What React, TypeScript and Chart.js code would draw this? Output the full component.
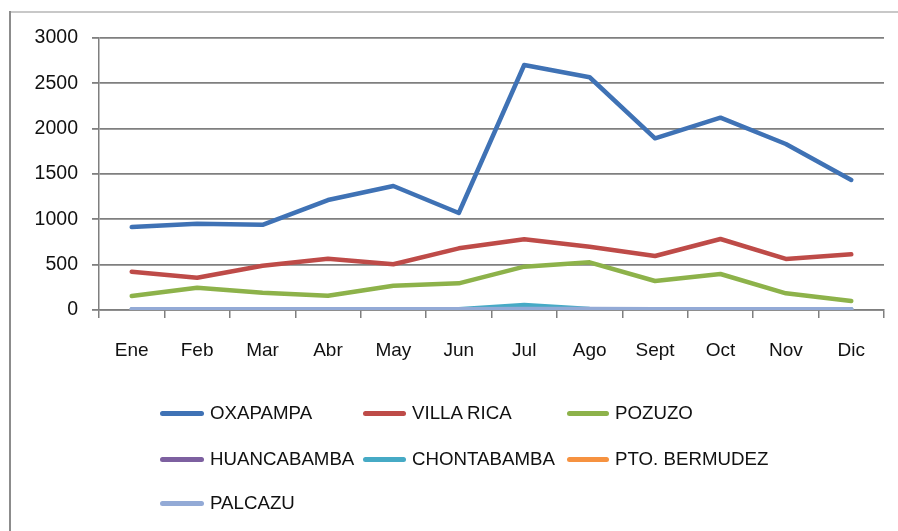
import React, { useEffect, useRef } from "react";
import { Chart, registerables } from "chart.js";

Chart.register(...registerables);

const months = ["Ene", "Feb", "Mar", "Abr", "May", "Jun", "Jul", "Ago", "Sept", "Oct", "Nov", "Dic"];
const yTicks = [0, 500, 1000, 1500, 2000, 2500, 3000];

const oxapampa = [915, 952, 940, 1213, 1368, 1070, 2702, 2567, 1894, 2121, 1831, 1434];
const villaRica = [423, 356, 489, 566, 504, 680, 780, 698, 596, 783, 563, 614];
const pozuzo = [154, 246, 191, 158, 268, 294, 478, 526, 320, 397, 184, 99];
const huancabamba = [2, 2, 2, 2, 2, 2, -15, 3, 2, -5, 2, 2];
const chontabamba = [5, 5, 5, 5, 8, 8, 55, 10, 3, 5, 5, 5];
const ptoBermudez = [0, 0, 0, 0, 0, 0, 0, 0, 0, 0, 0, 0];
const palcazu = [8, 8, 8, 8, 8, 8, 10, 12, 8, 8, 8, 8];

const seriesNames = ["OXAPAMPA", "VILLA RICA", "POZUZO", "HUANCABAMBA", "CHONTABAMBA", "PTO. BERMUDEZ", "PALCAZU"];
const seriesData = [oxapampa, villaRica, pozuzo, huancabamba, chontabamba, ptoBermudez, palcazu];
const seriesColors = ["#3f72b5", "#be4b48", "#8db24a", "#7d60a0", "#46aac5", "#f69240", "#93aad6"];

const legendCols = [
  { line: 160, text: 210 },
  { line: 363, text: 412 },
  { line: 567, text: 615 },
];
const legendRows = [413, 459, 503];

const FONT = "'Liberation Sans', Arial, sans-serif";

export default function App() {
  const ref = useRef<HTMLCanvasElement | null>(null);

  useEffect(() => {
    if (!ref.current) return;
    const chart = new Chart(ref.current, {
      type: "line",
      data: {
        labels: months,
        datasets: seriesNames.map((name, i) => ({
          label: name,
          data: seriesData[i],
          borderColor: seriesColors[i],
          backgroundColor: seriesColors[i],
          borderWidth: 4.5,
          pointRadius: 0,
          tension: 0,
          borderCapStyle: "round" as const,
          borderJoinStyle: "round" as const,
          order: seriesNames.length - 1 - i,
        })),
      },
      options: {
        animation: false,
        responsive: false,
        layout: { padding: { left: 0, top: 38, right: 14, bottom: 161 } },
        plugins: { legend: { display: false }, tooltip: { enabled: false } },
        scales: {
          x: {
            offset: true,
            grid: {
              drawOnChartArea: false,
              drawTicks: true,
              tickLength: 8,
              color: "#7f7f7f",
              lineWidth: 1.5,
              offset: true,
            },
            border: { display: true, color: "#7f7f7f", width: 1.5 },
            ticks: {
              color: "#111",
              font: { family: FONT, size: 19 },
              padding: 21,
              maxRotation: 0,
              autoSkip: false,
            },
            afterFit: (scale: any) => {
              scale.height = 60;
            },
          },
          y: {
            min: 0,
            max: 3000,
            afterBuildTicks: (scale: any) => {
              scale.ticks = yTicks.map((v) => ({ value: v }));
            },
            grid: {
              color: "#7f7f7f",
              lineWidth: 1.8,
              tickLength: 7,
            },
            border: { display: true, color: "#7f7f7f", width: 1.5 },
            ticks: {
              color: "#111",
              font: { family: FONT, size: 19.5 },
              padding: 14,
              callback: (v: any) => String(v),
            },
            afterFit: (scale: any) => {
              scale.width = 99;
            },
          },
        },
      },
    });
    return () => chart.destroy();
  }, []);

  return (
    <div style={{ position: "absolute", left: 0, top: 0, width: 898, height: 531, background: "#fff", overflow: "hidden" }}>
      <canvas ref={ref} width={898} height={531} style={{ position: "absolute", left: 0, top: 0, width: 898, height: 531 }} />
      <div style={{ position: "absolute", left: 10, top: 11, width: 888, height: 1.5, background: "#c8c8c8" }} />
      <div style={{ position: "absolute", left: 9, top: 11, width: 2, height: 520, background: "#8c8c8c" }} />
      {seriesNames.map((name, i) => {
        const col = legendCols[i % 3];
        const row = legendRows[Math.floor(i / 3)];
        return (
          <React.Fragment key={name}>
            <div
              style={{
                position: "absolute",
                left: col.line,
                top: row - 2.5,
                width: col.text - col.line - 6,
                height: 5,
                borderRadius: 2.5,
                background: seriesColors[i],
              }}
            />
            <div
              style={{
                position: "absolute",
                left: col.text,
                top: row - 11,
                height: 22,
                lineHeight: "22px",
                fontFamily: FONT,
                fontSize: 18.7,
                color: "#111",
                whiteSpace: "nowrap",
              }}
            >
              {name}
            </div>
          </React.Fragment>
        );
      })}
    </div>
  );
}
